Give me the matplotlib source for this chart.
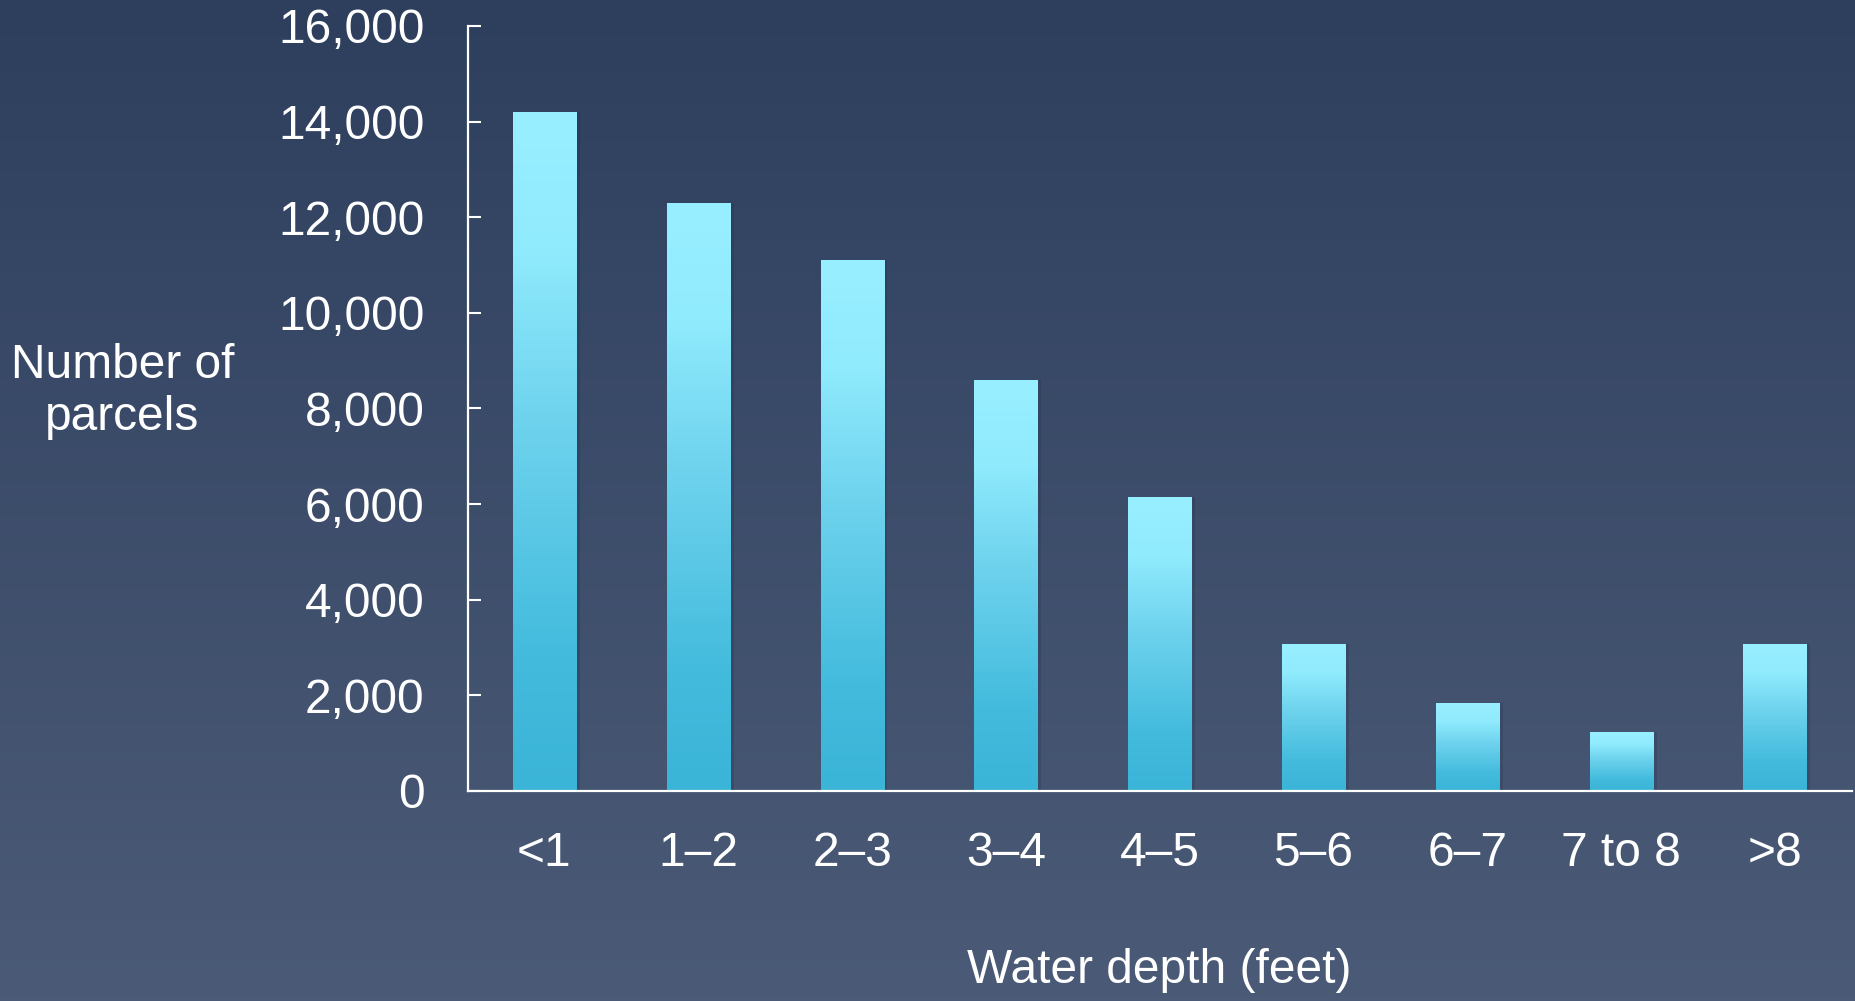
import numpy as np
import matplotlib.pyplot as plt
from matplotlib.colors import LinearSegmentedColormap
from matplotlib.ticker import FuncFormatter

# Parcels by flood water depth
depths = ["<1", "1\u20132", "2\u20133", "3\u20134", "4\u20135", "5\u20136", "6\u20137", "7 to 8", ">8"]
parcels = [14200, 12300, 11100, 8600, 6150, 3080, 1840, 1230, 3080]
y_ticks = [0, 2000, 4000, 6000, 8000, 10000, 12000, 14000, 16000]

plt.rcParams['font.family'] = ['Liberation Sans', 'DejaVu Sans']
FS = 34.5

fig = plt.figure(figsize=(18.56, 10.01), dpi=100)

# Background gradient, dark navy at top to slate at bottom
bg = fig.add_axes([0, 0, 1, 1], zorder=-10)
bg_cmap = LinearSegmentedColormap.from_list('bg', ['#2e3f5e', '#4b5b77'])
bg.imshow(np.linspace(0, 1, 256).reshape(-1, 1), aspect='auto', cmap=bg_cmap,
          extent=[0, 1, 0, 1], origin='upper')
bg.axis('off')

ax = fig.add_axes([0.2519, 0.2098, 0.7459, 0.7643])
ax.patch.set_alpha(0)

x = np.arange(len(depths))
width = 0.41

# soft shadow on the right of each bar
ax.bar(x + 0.025, parcels, width=width, color='#1c2740', alpha=0.2, zorder=1)
bars = ax.bar(x, parcels, width=width, color='none', zorder=2)

bar_cmap = LinearSegmentedColormap.from_list(
    'bar', [(0.0, '#3ab4d7'), (0.2, '#43bbdd'), (0.55, '#6fd3ee'), (0.8, '#90ebfd'), (1.0, '#98efff')])
grad = np.linspace(0, 1, 256).reshape(-1, 1)
for bar in bars:
    x0 = bar.get_x()
    h = bar.get_height()
    im = ax.imshow(grad, aspect='auto', cmap=bar_cmap, origin='lower',
                   extent=[x0, x0 + bar.get_width(), 0, h], zorder=3)
    im.set_clip_path(bar)

ax.set_xlim(-0.5, 8.5)
ax.set_ylim(0, 16000)

ax.set_xticks(x)
ax.set_xticklabels(depths)
ax.set_yticks(y_ticks)
ax.yaxis.set_major_formatter(FuncFormatter(lambda v, p: f'{int(v):,}'))

ax.tick_params(axis='x', length=0, pad=29, labelsize=FS, labelcolor='white')
ax.tick_params(axis='y', direction='in', length=9, width=1.5, color='white',
               pad=31, labelsize=FS, labelcolor='white')

for side in ['top', 'right']:
    ax.spines[side].set_visible(False)
for side in ['left', 'bottom']:
    ax.spines[side].set_color('white')
    ax.spines[side].set_linewidth(1.6)
    ax.spines[side].set_zorder(5)

ax.set_xlabel('Water depth (feet)', fontsize=FS, color='white', labelpad=52)

fig.text(0.066, 0.609, 'Number of\nparcels', fontsize=FS, color='white',
         ha='center', va='center', linespacing=1.2)

fig.savefig('out.png', dpi=100)
